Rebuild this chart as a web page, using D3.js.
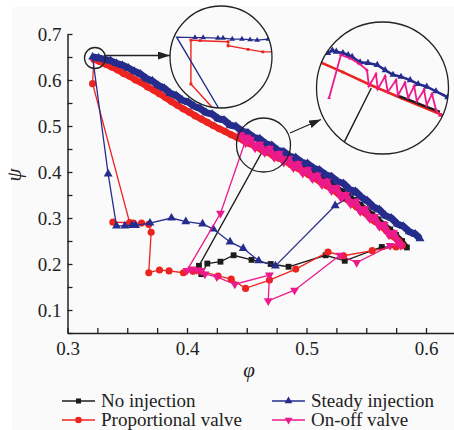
<!DOCTYPE html>
<html><head><meta charset="utf-8">
<script src="https://cdn.jsdelivr.net/npm/d3@7"></script>
<style>body{margin:0;background:#fff}svg{display:block}</style>
</head><body><svg id="c" width="454" height="430"></svg>
<script>
// ---------- data ----------
const seriesNames = ["No injection", "Steady injection", "Proportional valve", "On-off valve"];
const xTicks = [0.3,0.325,0.35,0.375,0.4,0.425,0.45,0.475,0.5,0.525,0.55,0.575,0.6];
const xTickLabels = [0.3,0.4,0.5,0.6];
const yTicks = [0.05,0.1,0.15,0.2,0.25,0.3,0.35,0.4,0.45,0.5,0.55,0.6,0.65,0.7];
const yTickLabels = [0.1,0.2,0.3,0.4,0.5,0.6,0.7];

// Steady injection: characteristic band (ascending phi) then surge loop
const steadyBand = [[0.321,0.650],[0.326,0.648],[0.331,0.645],[0.336,0.642],[0.341,0.636],[0.346,0.632],[0.351,0.626],[0.356,0.619],[0.361,0.613],[0.366,0.603],[0.371,0.598],[0.376,0.588],[0.381,0.582],[0.386,0.571],[0.391,0.566],[0.396,0.556],[0.401,0.552],[0.406,0.543],[0.411,0.538],[0.416,0.529],[0.421,0.526],[0.426,0.516],[0.431,0.513],[0.436,0.502],[0.441,0.499],[0.446,0.489],[0.451,0.485],[0.456,0.475],[0.461,0.472],[0.466,0.461],[0.471,0.458],[0.476,0.447],[0.481,0.444],[0.486,0.434],[0.491,0.431],[0.496,0.421],[0.501,0.418],[0.506,0.408],[0.511,0.404],[0.516,0.394],[0.521,0.390],[0.526,0.379],[0.531,0.375],[0.536,0.362],[0.541,0.358],[0.546,0.345],[0.551,0.337],[0.556,0.324],[0.561,0.318],[0.566,0.305],[0.571,0.300],[0.576,0.287],[0.581,0.282],[0.586,0.270],[0.591,0.265],[0.595,0.255]];
const steadyLoop = [[0.334,0.396],[0.341,0.283],[0.348,0.283],[0.354,0.284],[0.357,0.284],[0.369,0.289],[0.387,0.300],[0.399,0.292],[0.413,0.287],[0.422,0.276],[0.436,0.248],[0.447,0.234],[0.460,0.207],[0.474,0.196],[0.524,0.327],[0.541,0.354]];

// Proportional valve
const propBand = [[0.322,0.645],[0.327,0.640],[0.332,0.634],[0.337,0.628],[0.342,0.622],[0.347,0.614],[0.352,0.608],[0.357,0.600],[0.362,0.594],[0.367,0.585],[0.372,0.578],[0.377,0.570],[0.382,0.562],[0.387,0.553],[0.392,0.545],[0.397,0.537],[0.402,0.530],[0.407,0.522],[0.412,0.515],[0.417,0.508],[0.422,0.501],[0.427,0.494],[0.432,0.488],[0.437,0.481],[0.442,0.475],[0.447,0.469],[0.452,0.462],[0.457,0.456],[0.462,0.449],[0.467,0.443],[0.472,0.436],[0.477,0.430],[0.482,0.424],[0.487,0.416],[0.492,0.409],[0.497,0.401],[0.502,0.394],[0.507,0.386],[0.512,0.378],[0.517,0.370],[0.522,0.361],[0.527,0.352],[0.532,0.343],[0.537,0.334],[0.542,0.324],[0.547,0.314],[0.552,0.304],[0.557,0.293],[0.562,0.283],[0.567,0.272],[0.572,0.261],[0.577,0.250],[0.580,0.240]];
const propLoop = [[0.321,0.592],[0.352,0.290],[0.338,0.291],[0.355,0.289],[0.362,0.289],[0.368,0.286],[0.370,0.269],[0.368,0.181],[0.377,0.187],[0.385,0.185],[0.397,0.181],[0.405,0.184],[0.411,0.185],[0.426,0.174],[0.437,0.167],[0.449,0.147],[0.469,0.165],[0.491,0.189],[0.518,0.226],[0.531,0.218],[0.555,0.229],[0.575,0.237],[0.580,0.240]];

// No injection
const noInjBand = [[0.465,0.454],[0.470,0.448],[0.475,0.443],[0.480,0.437],[0.485,0.430],[0.490,0.424],[0.495,0.416],[0.500,0.409],[0.505,0.401],[0.510,0.393],[0.515,0.385],[0.520,0.376],[0.525,0.367],[0.530,0.358],[0.535,0.349],[0.540,0.339],[0.545,0.329],[0.550,0.319],[0.555,0.308],[0.560,0.297],[0.565,0.286],[0.570,0.275],[0.575,0.263],[0.580,0.250],[0.584,0.236]];
const noInjLoop = [[0.563,0.237],[0.532,0.207],[0.516,0.219],[0.485,0.194],[0.470,0.200],[0.454,0.209],[0.439,0.219],[0.428,0.205],[0.417,0.201],[0.412,0.178],[0.410,0.196],[0.465,0.454]];

// On-off valve
const onoffBand = [[0.445,0.481],[0.449,0.463],[0.453,0.471],[0.457,0.452],[0.461,0.460],[0.465,0.442],[0.469,0.451],[0.473,0.431],[0.477,0.440],[0.481,0.421],[0.485,0.429],[0.489,0.409],[0.493,0.418],[0.497,0.397],[0.501,0.405],[0.505,0.385],[0.509,0.393],[0.513,0.372],[0.517,0.380],[0.521,0.359],[0.525,0.366],[0.529,0.344],[0.533,0.351],[0.537,0.330],[0.541,0.336],[0.545,0.314],[0.549,0.320],[0.553,0.298],[0.557,0.303],[0.561,0.281],[0.565,0.286],[0.569,0.263],[0.573,0.268],[0.577,0.245],[0.579,0.240]];
const onoffLoop = [[0.570,0.240],[0.542,0.203],[0.528,0.219],[0.490,0.143],[0.468,0.120],[0.469,0.176],[0.440,0.156],[0.425,0.172],[0.415,0.178],[0.412,0.185],[0.408,0.187],[0.404,0.189],[0.400,0.186],[0.428,0.310],[0.450,0.476]];

// Inset 1 (magnified surge point), local units in [-1,1]
const inset1Steady = [[0.93,-0.35],[0.71,-0.33],[0.57,-0.34],[0.41,-0.35],[0.22,-0.35],[0.04,-0.37],[-0.06,-0.37],[-0.35,-0.38],[-0.51,-0.38],[-0.87,-0.39],[-0.06,0.98],[0.05,1.2]];
const inset1Prop = [[1.06,-0.10],[0.82,-0.10],[0.53,-0.15],[0.14,-0.22],[0.14,-0.30],[-0.41,-0.32],[-0.59,-0.33],[-0.59,0.53],[-0.18,0.98],[-0.10,1.1]];
// Inset 2 (magnified band), local units
const inset2Steady = [[-1.0,-0.53],[-0.83,-0.53],[-0.76,-0.57],[-0.70,-0.55],[-0.60,-0.53],[-0.52,-0.50],[-0.46,-0.47],[-0.34,-0.39],[-0.22,-0.38],[-0.08,-0.35],[0.04,-0.27],[0.16,-0.20],[0.28,-0.17],[0.42,-0.12],[0.54,-0.06],[0.67,-0.02],[0.81,0.05],[0.99,0.14]];
const inset2Prop = [[-1.0,-0.43],[-0.92,-0.38],[-0.60,-0.24],[-0.19,-0.05],[0.30,0.16],[0.88,0.40],[1.0,0.46]];
const inset2NoInj = [[0.22,0.11],[0.45,0.20],[0.65,0.28],[0.87,0.36]];
const inset2NoInjLink = [[-0.17,0.0],[-0.54,0.74],[-0.62,0.9]];
const inset2Onoff = [[-0.81,0.15],[-0.63,-0.50],[-0.49,-0.45],[-0.34,-0.36],[-0.235,-0.27],[-0.205,-0.03],[-0.10,-0.21],[-0.07,0.015],[0.04,-0.18],[0.08,0.06],[0.205,-0.12],[0.235,0.11],[0.34,-0.08],[0.39,0.15],[0.48,-0.03],[0.52,0.20],[0.63,0.03],[0.67,0.26],[0.75,0.09],[0.81,0.33],[0.87,0.42]];

// ---------- drawing ----------
const colors = {black:"#1c1c1c", blue:"#262c8c", red:"#ec2420", pink:"#ec1a8c"};
const serif = "'Liberation Serif','Times New Roman',serif";
const svg = d3.select("#c");
svg.append("rect").attr("x",12).attr("y",7).attr("width",442).attr("height",423).attr("fill","#fafafa");

const x = d3.scaleLinear().domain([0.3,0.63]).range([67.5, 67.5+0.33*1195]);
const y = d3.scaleLinear().domain([0.05,0.7]).range([333,34]);

const isMajor = (d, list) => list.some(v => Math.abs(v-d) < 1e-9);
const gx = svg.append("g").attr("transform","translate(0,333)")
  .call(d3.axisBottom(x).tickValues(xTicks).tickSizeInner(-5).tickSizeOuter(0).tickPadding(9)
    .tickFormat(d => isMajor(d,xTickLabels) ? d3.format(".1f")(d) : ""));
const gy = svg.append("g").attr("transform","translate(67.5,0)")
  .call(d3.axisLeft(y).tickValues(yTicks).tickSizeInner(-5).tickSizeOuter(0).tickPadding(6)
    .tickFormat(d => isMajor(d,yTickLabels) ? d3.format(".1f")(d) : ""));
[gx,gy].forEach(g => {
  g.attr("font-family", serif);
  g.selectAll("path.domain").attr("stroke","#222").attr("stroke-width",1.5);
  g.selectAll(".tick line").attr("stroke","#222").attr("stroke-width",1.3);
  g.selectAll("text").attr("font-family",serif).attr("font-size",19).attr("fill","#222");
});

svg.append("text").attr("x",249).attr("y",377).attr("text-anchor","middle")
  .attr("font-family",serif).attr("font-style","italic").attr("font-size",21).attr("fill","#222").text("φ");
svg.append("text").attr("transform","translate(21,175) rotate(-90)").attr("text-anchor","middle")
  .attr("font-family",serif).attr("font-style","italic").attr("font-size",21).attr("fill","#222").text("ψ");

const line = d3.line().x(d => x(d[0])).y(d => y(d[1]));
const sym = {
  square: d3.symbol().type(d3.symbolSquare).size(34),
  circle: d3.symbol().type(d3.symbolCircle).size(40),
  tri: d3.symbol().type(d3.symbolTriangle).size(34),
};
function drawSeries(band, loop, color, shape, rot, bandWidth) {
  const g = svg.append("g");
  const all = band.concat(loop);
  g.append("path").attr("d", line([band[band.length-1]].concat(loop))).attr("fill","none").attr("stroke",color).attr("stroke-width",1.3);
  g.append("path").attr("d", line(band)).attr("fill","none").attr("stroke",color).attr("stroke-width",bandWidth).attr("stroke-linejoin","round");
  g.selectAll("path.m").data(all).join("path").attr("class","m")
    .attr("d", sym[shape]())
    .attr("transform", d => `translate(${x(d[0])},${y(d[1])})${rot?" rotate(180)":""}`)
    .attr("fill", color);
}
drawSeries(noInjBand, noInjLoop, colors.black, "square", false, 5);
drawSeries(propBand.slice().reverse(), propLoop, colors.red, "circle", false, 6.5);
drawSeries(steadyBand.slice().reverse(), steadyLoop, colors.blue, "tri", false, 7);
drawSeries(onoffBand, onoffLoop, colors.pink, "tri", true, 6);

// ---------- insets ----------
const ink = "#222";
function inset(id, cx, cy, r, layers) {
  const defs = svg.append("defs");
  defs.append("clipPath").attr("id",id).append("circle").attr("cx",cx).attr("cy",cy).attr("r",r);
  svg.append("circle").attr("cx",cx).attr("cy",cy).attr("r",r).attr("fill","#fafafa");
  const sx = d3.scaleLinear([-1,1],[cx-r,cx+r]), sy = d3.scaleLinear([-1,1],[cy-r,cy+r]);
  const g = svg.append("g").attr("clip-path",`url(#${id})`);
  const l = d3.line().x(d=>sx(d[0])).y(d=>sy(d[1]));
  layers.forEach(L => {
    g.append("path").attr("d", l(L.pts)).attr("fill","none").attr("stroke",L.color).attr("stroke-width",L.w||1.3);
    if (L.marker) {
      g.selectAll(null).data(L.pts.slice(0, L.nMarkers || L.pts.length)).join("path")
        .attr("d", d3.symbol().type(L.marker).size(L.size)())
        .attr("transform", d=>`translate(${sx(d[0])},${sy(d[1])})`).attr("fill",L.color);
    }
  });
  svg.append("circle").attr("cx",cx).attr("cy",cy).attr("r",r).attr("fill","none").attr("stroke",ink).attr("stroke-width",1.3);
}
inset("clip1", 221, 57, 51, [
  {pts: inset1Prop, color: colors.red, w:1.4, marker: d3.symbolSquare, size: 8, nMarkers: 8},
  {pts: inset1Steady, color: colors.blue, w:1.4, marker: d3.symbolTriangle, size: 14, nMarkers: 9},
]);
inset("clip2", 382.5, 88, 66, [
  {pts: inset2Prop, color: colors.red, w:2.6, marker: d3.symbolSquare, size: 8},
  {pts: inset2NoInj, color: colors.black, w:2.4},
  {pts: inset2NoInjLink, color: colors.black, w:1.4},
  {pts: inset2Steady, color: colors.blue, w:2.6, marker: d3.symbolTriangle, size: 22},
  {pts: inset2Onoff, color: colors.pink, w:1.8, marker: d3.symbolTriangle, size: 6},
]);

// small circles and arrows
svg.append("circle").attr("cx",95).attr("cy",58).attr("r",10.5).attr("fill","none").attr("stroke",ink).attr("stroke-width",1.3);
svg.append("circle").attr("cx",263.5).attr("cy",145).attr("r",27).attr("fill","none").attr("stroke",ink).attr("stroke-width",1.3);
svg.append("defs").append("marker").attr("id","ah").attr("viewBox","0 0 12 8").attr("refX",12).attr("refY",4)
  .attr("markerWidth",12).attr("markerHeight",8).attr("markerUnits","userSpaceOnUse").attr("orient","auto")
  .append("path").attr("d","M0,0L12,4L0,8Z").attr("fill",ink);
svg.append("line").attr("x1",106).attr("y1",55.5).attr("x2",170).attr("y2",55.5).attr("stroke",ink).attr("stroke-width",1.3).attr("marker-end","url(#ah)");
svg.append("line").attr("x1",290).attr("y1",133).attr("x2",321).attr("y2",119.5).attr("stroke",ink).attr("stroke-width",1.3).attr("marker-end","url(#ah)");

// ---------- legend ----------
const legendItems = [
  {name: seriesNames[0], color: colors.black, shape: "square", rot:false, col:0, row:0},
  {name: seriesNames[1], color: colors.blue, shape: "tri", rot:false, col:1, row:0},
  {name: seriesNames[2], color: colors.red, shape: "circle", rot:false, col:0, row:1},
  {name: seriesNames[3], color: colors.pink, shape: "tri", rot:true, col:1, row:1},
];
const lg = svg.append("g");
legendItems.forEach(it => {
  const x0 = it.col ? 272 : 62, yy = it.row ? 420 : 401;
  lg.append("line").attr("x1",x0).attr("x2",x0+33).attr("y1",yy).attr("y2",yy).attr("stroke",it.color).attr("stroke-width",1.6);
  lg.append("path").attr("d", d3.symbol().type(it.shape==="square"?d3.symbolSquare:it.shape==="circle"?d3.symbolCircle:d3.symbolTriangle).size(it.shape==="circle"?34:26)())
    .attr("transform",`translate(${x0+16.5},${yy})${it.rot?" rotate(180)":""}`).attr("fill",it.color);
  lg.append("text").attr("x",x0+39).attr("y",yy+5.5).attr("font-family",serif)
    .attr("font-size",19).attr("fill","#222").text(it.name);
});
</script>
</body></html>
